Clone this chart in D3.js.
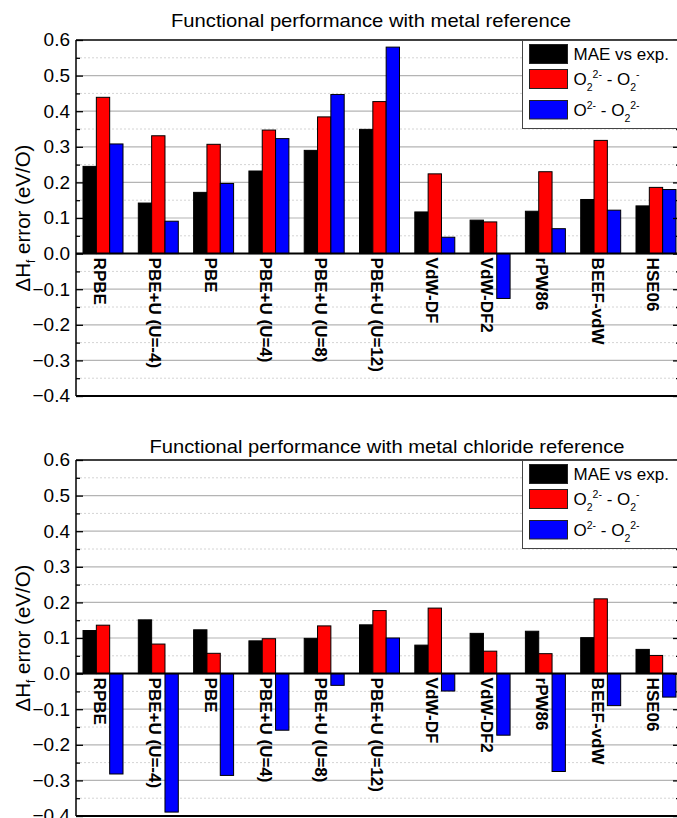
<!DOCTYPE html>
<html>
<head>
<meta charset="utf-8">
<script src="https://cdn.jsdelivr.net/npm/d3@7"></script>
<style>
  html, body { margin: 0; padding: 0; background: #fff; }
  svg { display: block; font-family: Arial, "Liberation Sans", sans-serif; }
</style>
</head>
<body>
<svg id="chart" width="677" height="818"></svg>
<script>
// Functionals compared
const categories = ["RPBE", "PBE+U (U=-4)", "PBE", "PBE+U (U=4)", "PBE+U (U=8)", "PBE+U (U=12)",
                    "VdW-DF", "VdW-DF2", "rPW86", "BEEF-vdW", "HSE06"];
const seriesKeys = ["mae", "peroxSuper", "oxPerox"];
const seriesColors = ["#000000", "#ff0000", "#0000ff"];

// Metal reference (eV/O)
const metalMAE        = [0.245, 0.142, 0.172, 0.232, 0.290, 0.349, 0.117, 0.094, 0.119, 0.152, 0.134];
const metalPeroxSuper = [0.439, 0.331, 0.307, 0.347, 0.384, 0.427, 0.224, 0.089, 0.230, 0.318, 0.186];
const metalOxPerox    = [0.308, 0.091, 0.197, 0.323, 0.447, 0.580, 0.046, -0.126, 0.070, 0.122, 0.180];

// Metal chloride reference (eV/O)
const chlorideMAE        = [0.121, 0.151, 0.123, 0.092, 0.099, 0.137, 0.080, 0.113, 0.119, 0.101, 0.068];
const chloridePeroxSuper = [0.136, 0.083, 0.057, 0.098, 0.134, 0.177, 0.184, 0.063, 0.056, 0.210, 0.051];
const chlorideOxPerox    = [-0.282, -0.389, -0.286, -0.159, -0.033, 0.100, -0.049, -0.173, -0.275, -0.090, -0.066];

const yTicks = [-0.4, -0.3, -0.2, -0.1, 0.0, 0.1, 0.2, 0.3, 0.4, 0.5, 0.6];
const yMinorTicks = [-0.35, -0.25, -0.15, -0.05, 0.05, 0.15, 0.25, 0.35, 0.45, 0.55];

const panels = [
  { title: "Functional performance with metal reference", top: 0,
    titleX: 371, titleY: 26.7, titleW: 400,
    values: [metalMAE, metalPeroxSuper, metalOxPerox] },
  { title: "Functional performance with metal chloride reference", top: 420,
    titleX: 387, titleY: 33, titleW: 475,
    values: [chlorideMAE, chloridePeroxSuper, chlorideOxPerox] }
];

const svg = d3.select("#chart");
const left = 76, right = 680;

const x = d3.scaleBand().domain(categories).range([76, 683]).paddingInner(0.277).paddingOuter(0.127);
const xs = d3.scaleBand().domain(seriesKeys).range([0, x.bandwidth()]);

function legendLabel(g, parts, x0, baseline) {
  const t = g.append("text").attr("x", x0).attr("y", baseline).attr("font-size", 17).attr("fill", "#000");
  let shift = 0;
  parts.forEach(p => {
    const target = p.pos === "sub" ? 6 : p.pos === "sup" ? -7 : 0;
    t.append("tspan").attr("dy", target - shift)
      .attr("font-size", p.pos ? 10.5 : 17)
      .text(p.t);
    shift = target;
  });
}

panels.forEach(panel => {
  const g = svg.append("g").attr("transform", `translate(0,${panel.top})`);
  const y = d3.scaleLinear().domain([-0.4, 0.6]).range([396, 40]);

  // minor grid
  g.selectAll("line.minor").data(yMinorTicks).join("line")
    .attr("x1", left).attr("x2", right)
    .attr("y1", d => y(d)).attr("y2", d => y(d))
    .attr("stroke", "#d4d4d4").attr("stroke-width", 1).attr("stroke-dasharray", "2,2");
  // major grid
  g.selectAll("line.major").data(yTicks.filter(d => d > -0.4 && d < 0.6 && d !== 0)).join("line")
    .attr("x1", left).attr("x2", right)
    .attr("y1", d => y(d)).attr("y2", d => y(d))
    .attr("stroke", "#b4b4b4").attr("stroke-width", 1.2);

  // bars
  const groups = g.selectAll("g.cat").data(categories).join("g")
    .attr("transform", d => `translate(${x(d)},0)`);
  groups.selectAll("rect").data((d, i) => seriesKeys.map((k, s) => ({ k, s, v: panel.values[s][i] })))
    .join("rect")
    .attr("x", d => xs(d.k)).attr("width", xs.bandwidth())
    .attr("y", d => y(Math.max(0, d.v)))
    .attr("height", d => Math.abs(y(d.v) - y(0)))
    .attr("fill", d => seriesColors[d.s])
    .attr("stroke", "#000").attr("stroke-width", 1);

  // zero line
  g.append("line").attr("x1", left).attr("x2", right).attr("y1", y(0)).attr("y2", y(0))
    .attr("stroke", "#000").attr("stroke-width", 2);

  // frame
  g.append("line").attr("x1", left).attr("x2", right).attr("y1", y(0.6)).attr("y2", y(0.6))
    .attr("stroke", "#000").attr("stroke-width", 1.5);
  g.append("line").attr("x1", left).attr("x2", right).attr("y1", y(-0.4)).attr("y2", y(-0.4))
    .attr("stroke", "#000").attr("stroke-width", 2);
  g.append("line").attr("x1", left).attr("x2", left).attr("y1", y(0.6)).attr("y2", y(-0.4))
    .attr("stroke", "#000").attr("stroke-width", 1.5);
  g.append("line").attr("x1", right).attr("x2", right).attr("y1", y(0.6)).attr("y2", y(-0.4))
    .attr("stroke", "#000").attr("stroke-width", 1.5);

  // inward ticks on both sides
  const yAxisL = d3.axisRight(y).tickValues(yTicks).tickSize(7).tickFormat("");
  const yAxisLm = d3.axisRight(y).tickValues(yMinorTicks).tickSize(4).tickFormat("");
  const yAxisR = d3.axisLeft(y).tickValues(yTicks).tickSize(7).tickFormat("");
  const yAxisRm = d3.axisLeft(y).tickValues(yMinorTicks).tickSize(4).tickFormat("");
  [[yAxisL, left], [yAxisLm, left], [yAxisR, right], [yAxisRm, right]].forEach(([ax, xp]) => {
    const a = g.append("g").attr("transform", `translate(${xp},0)`).call(ax);
    a.select(".domain").remove();
    a.selectAll(".tick line").attr("stroke", "#000").attr("stroke-width", 1.3);
  });

  // tick labels
  g.selectAll("text.ytick").data(yTicks).join("text")
    .attr("class", "ytick")
    .attr("x", 70).attr("y", d => y(d) + 6.3)
    .attr("text-anchor", "end").attr("font-size", 19).attr("fill", "#000")
    .text(d => d3.format(".1f")(d));

  // category labels
  g.selectAll("text.cat").data(categories).join("text")
    .attr("class", "cat")
    .attr("transform", d => `translate(${x(d) + x.bandwidth() / 2 - 9},${y(0) + 4}) rotate(90)`)
    .attr("font-size", 17).attr("font-weight", "bold").attr("fill", "#000")
    .text(d => d);

  // title
  g.append("text").attr("x", panel.titleX).attr("y", panel.titleY).attr("text-anchor", "middle")
    .attr("font-size", 19).attr("fill", "#000")
    .attr("textLength", panel.titleW).attr("lengthAdjust", "spacingAndGlyphs")
    .text(panel.title);

  // y axis title
  const yt = g.append("text")
    .attr("transform", `translate(30,${(y(0.6) + y(-0.4)) / 2}) rotate(-90)`)
    .attr("text-anchor", "middle").attr("font-size", 20.5).attr("fill", "#000");
  yt.append("tspan").text("\u0394H");
  yt.append("tspan").attr("font-size", 12).attr("dy", 5).text("f");
  yt.append("tspan").attr("dy", -5).text(" error (eV/O)");

  // legend
  const lg = g.append("g");
  lg.append("rect").attr("x", 522.5).attr("y", 40.5).attr("width", 170).attr("height", 88)
    .attr("fill", "#fff").attr("stroke", "#444").attr("stroke-width", 1);
  const rowsY = [44.5, 69.5, 100.5];
  const swH = [19, 19, 18.5];
  rowsY.forEach((ry, s) => {
    lg.append("rect").attr("x", 529.5).attr("y", ry).attr("width", 38).attr("height", swH[s])
      .attr("fill", seriesColors[s]).attr("stroke", "#222").attr("stroke-width", 1);
  });
  legendLabel(lg, [{ t: "MAE vs exp." }], 573.5, 59.5);
  legendLabel(lg, [{ t: "O" }, { t: "2", pos: "sub" }, { t: "2-", pos: "sup" }, { t: " - O" },
                   { t: "2", pos: "sub" }, { t: "-", pos: "sup" }], 573.5, 84.5);
  legendLabel(lg, [{ t: "O" }, { t: "2-", pos: "sup" }, { t: " - O" },
                   { t: "2", pos: "sub" }, { t: "2-", pos: "sup" }], 573.5, 115.5);
});
</script>
</body>
</html>
